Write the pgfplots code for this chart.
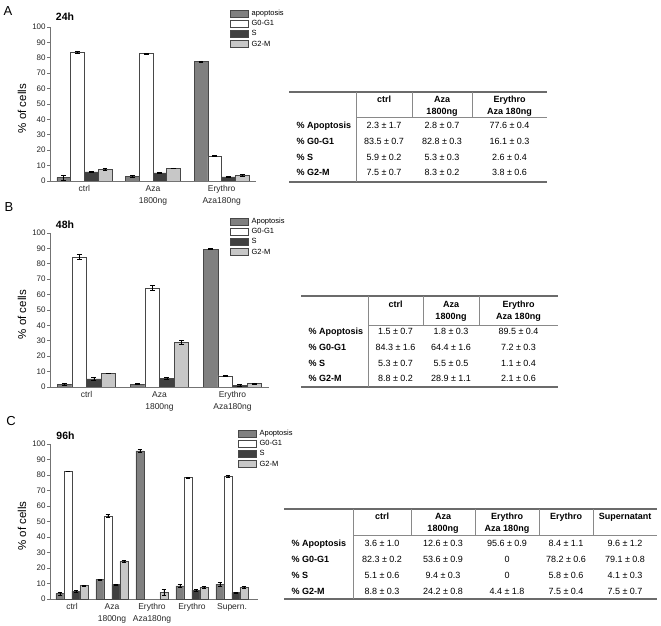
\documentclass[border=0pt]{standalone}
\usepackage{fontspec}
\setmainfont{Liberation Sans}
\usepackage{pgfplots}
\pgfplotsset{compat=1.18}

\definecolor{apo}{gray}{0.5}
\definecolor{sph}{gray}{0.25}
\definecolor{gtm}{gray}{0.78}
\definecolor{edge}{gray}{0.28}
\definecolor{axc}{gray}{0.45}
\definecolor{tl}{gray}{0.42}

\pgfplotsset{
  barleg/.style={legend image code/.code={\draw[##1] (0pt,-3.25pt) rectangle (18pt,3.25pt);}},
  sA/.style={fill=apo, draw=edge, line width=0.6pt},
  sG/.style={fill=white, draw=edge, line width=0.6pt},
  sS/.style={fill=sph, draw=edge, line width=0.6pt},
  sM/.style={fill=gtm, draw=edge, line width=0.6pt},
  eb/.style={error bars/.cd, y dir=both, y explicit,
    error bar style={black, line width=0.6pt},
    error mark options={rotate=90, black, mark size=2.4pt, line width=0.6pt}},
  panel/.style={
    scale only axis,
    anchor=south west,
    ybar=0pt, bar width=0.2,
    axis x line*=bottom, axis y line*=left,
    ymin=0, ymax=100, ytick={0,10,...,100},
    tick align=outside,
    major tick length=3pt,
    x tick style={draw=none},
    y tick style={axc, line width=0.6pt},
    axis line style={axc, line width=0.7pt},
    tick label style={font=\fontsize{8}{9}\selectfont, text=black!85},
    /pgf/number format/assume math mode=true,
    yticklabel style={inner sep=1.2pt},
    xticklabel style={align=center, font=\fontsize{8.5}{11.5}\selectfont, inner sep=1.5pt},
    ylabel={\% of cells},
    legend cell align=left,
    barleg,
    legend style={draw=none, fill=none, inner sep=0pt, outer sep=0pt, row sep=3pt,
      font=\fontsize{7.5}{8}\selectfont,
      nodes={inner sep=0pt, text height=5.5pt, text depth=1.2pt},
      /tikz/every odd column/.append style={column sep=3pt}},
  },
}
\tikzset{
  tline/.style={draw=tl, line width=1.1pt},
  vline/.style={draw=tl!80, line width=0.8pt},
  th/.style={font=\bfseries\fontsize{9}{11}\selectfont, anchor=mid},
  rl/.style={font=\bfseries\fontsize{9}{11}\selectfont, anchor=mid west},
  tv/.style={font=\fontsize{9}{11}\selectfont, anchor=mid},
}

\begin{document}
\begin{tikzpicture}
\useasboundingbox (0pt,0pt) rectangle (661pt,626pt);

% ---------------- Panel A ----------------
\begin{axis}[panel, at={(50pt,445pt)}, width=206pt, height=154pt,
  xmin=-0.5, xmax=2.5, xtick={0,1,2},
  xticklabels={ctrl,{Aza\\1800ng},{Erythro\\Aza180ng}},
  ylabel style={font=\fontsize{11.5}{12}\selectfont, at={(axis description cs:-0.136,0.47)}, anchor=center},
  legend style={at={(axis description cs:0.874,1.11)}, anchor=north west}]
\addplot[sA, eb] coordinates {(0,2.3) +- (0,1.7) (1,2.8) +- (0,0.7) (2,77.6) +- (0,0.4)};
\addplot[sG, eb] coordinates {(0,83.5) +- (0,0.7) (1,82.8) +- (0,0.3) (2,16.1) +- (0,0.3)};
\addplot[sS, eb] coordinates {(0,5.9) +- (0,0.2) (1,5.3) +- (0,0.3) (2,2.6) +- (0,0.4)};
\addplot[sM, eb] coordinates {(0,7.5) +- (0,0.7) (1,8.3) +- (0,0.2) (2,3.8) +- (0,0.6)};
\legend{apoptosis,G0-G1,S,G2-M}
\end{axis}

% ---------------- Panel B ----------------
\begin{axis}[panel, at={(50pt,239pt)}, width=219pt, height=154pt,
  xmin=-0.5, xmax=2.5, xtick={0,1,2},
  xticklabels={ctrl,{Aza\\1800ng},{Erythro\\Aza180ng}},
  ylabel style={font=\fontsize{11.5}{12}\selectfont, at={(axis description cs:-0.128,0.47)}, anchor=center},
  legend style={at={(axis description cs:0.822,1.097)}, anchor=north west}]
\addplot[sA, eb] coordinates {(0,1.5) +- (0,0.7) (1,1.8) +- (0,0.3) (2,89.5) +- (0,0.4)};
\addplot[sG, eb] coordinates {(0,84.3) +- (0,1.6) (1,64.4) +- (0,1.6) (2,7.2) +- (0,0.3)};
\addplot[sS, eb] coordinates {(0,5.3) +- (0,0.7) (1,5.5) +- (0,0.5) (2,1.1) +- (0,0.4)};
\addplot[sM, eb] coordinates {(0,8.8) +- (0,0.2) (1,28.9) +- (0,1.1) (2,2.1) +- (0,0.6)};
\legend{Apoptosis,G0-G1,S,G2-M}
\end{axis}

% ---------------- Panel C ----------------
\begin{axis}[panel, at={(50pt,27pt)}, width=208pt, height=155pt,
  xmin=-0.55, xmax=4.65, xtick={0,1,2,3,4},
  xticklabels={ctrl,{Aza\\1800ng},{Erythro\\Aza180ng},Erythro,Supern.},
  ylabel style={font=\fontsize{11.5}{12}\selectfont, at={(axis description cs:-0.135,0.47)}, anchor=center},
  legend style={at={(axis description cs:0.904,1.09)}, anchor=north west}]
\addplot[sA, eb] coordinates {(0,3.6) +- (0,1.0) (1,12.6) +- (0,0.3) (2,95.6) +- (0,0.9) (3,8.4) +- (0,1.1) (4,9.6) +- (0,1.2)};
\addplot[sG, eb] coordinates {(0,82.3) +- (0,0.2) (1,53.6) +- (0,0.9) (3,78.2) +- (0,0.6) (4,79.1) +- (0,0.8)};
\addplot[sS, eb] coordinates {(0,5.1) +- (0,0.6) (1,9.4) +- (0,0.3) (3,5.8) +- (0,0.6) (4,4.1) +- (0,0.3)};
\addplot[sM, eb] coordinates {(0,8.8) +- (0,0.3) (1,24.2) +- (0,0.8) (2,4.4) +- (0,1.8) (3,7.5) +- (0,0.4) (4,7.5) +- (0,0.7)};
\legend{Apoptosis,G0-G1,S,G2-M}
\end{axis}

% Panel letters and titles
\node[font=\fontsize{13}{14}\selectfont] at (8pt,615pt) {A};
\node[font=\fontsize{13}{14}\selectfont] at (9pt,419pt) {B};
\node[font=\fontsize{13}{14}\selectfont] at (11pt,205pt) {C};
\node[font=\bfseries\fontsize{10.5}{12}\selectfont] at (65pt,609pt) {24h};
\node[font=\bfseries\fontsize{10.5}{12}\selectfont] at (65pt,401pt) {48h};
\node[font=\bfseries\fontsize{10.5}{12}\selectfont] at (65.5pt,190pt) {96h};

% ---------------- Table A ----------------
\draw[tline] (289pt,534pt) -- (547pt,534pt);
\draw[vline] (356pt,509pt) -- (547pt,509pt);
\draw[tline] (289pt,444pt) -- (547pt,444pt);
\draw[vline] (356pt,534pt) -- (356pt,444pt);
\draw[vline] (412pt,534pt) -- (412pt,509pt);
\draw[vline] (472pt,534pt) -- (472pt,509pt);
\node[th] at (384pt,526pt) {ctrl};
\node[th] at (442pt,526pt) {Aza};
\node[th] at (442pt,514.5pt) {1800ng};
\node[th] at (509.5pt,526pt) {Erythro};
\node[th] at (509.5pt,514.5pt) {Aza 180ng};
\node[rl] at (293pt,500pt) {\% Apoptosis};
\node[rl] at (293pt,484pt) {\% G0-G1};
\node[rl] at (293pt,468.5pt) {\% S};
\node[rl] at (293pt,453pt) {\% G2-M};
\node[tv] at (384pt,500pt) {2.3 ± 1.7};
\node[tv] at (442pt,500pt) {2.8 ± 0.7};
\node[tv] at (509.5pt,500pt) {77.6 ± 0.4};
\node[tv] at (384pt,484pt) {83.5 ± 0.7};
\node[tv] at (442pt,484pt) {82.8 ± 0.3};
\node[tv] at (509.5pt,484pt) {16.1 ± 0.3};
\node[tv] at (384pt,468.5pt) {5.9 ± 0.2};
\node[tv] at (442pt,468.5pt) {5.3 ± 0.3};
\node[tv] at (509.5pt,468.5pt) {2.6 ± 0.4};
\node[tv] at (384pt,453pt) {7.5 ± 0.7};
\node[tv] at (442pt,453pt) {8.3 ± 0.2};
\node[tv] at (509.5pt,453pt) {3.8 ± 0.6};

% ---------------- Table B ----------------
\draw[tline] (301pt,330pt) -- (558pt,330pt);
\draw[vline] (368pt,301pt) -- (558pt,301pt);
\draw[tline] (301pt,239pt) -- (558pt,239pt);
\draw[vline] (368pt,330pt) -- (368pt,239pt);
\draw[vline] (423pt,330pt) -- (423pt,301pt);
\draw[vline] (479pt,330pt) -- (479pt,301pt);
\node[th] at (395.5pt,321pt) {ctrl};
\node[th] at (451pt,321pt) {Aza};
\node[th] at (451pt,309pt) {1800ng};
\node[th] at (518.5pt,321pt) {Erythro};
\node[th] at (518.5pt,309pt) {Aza 180ng};
\node[rl] at (305pt,294pt) {\% Apoptosis};
\node[rl] at (305pt,278pt) {\% G0-G1};
\node[rl] at (305pt,262.5pt) {\% S};
\node[rl] at (305pt,247pt) {\% G2-M};
\node[tv] at (395.5pt,294pt) {1.5 ± 0.7};
\node[tv] at (451pt,294pt) {1.8 ± 0.3};
\node[tv] at (518.5pt,294pt) {89.5 ± 0.4};
\node[tv] at (395.5pt,278pt) {84.3 ± 1.6};
\node[tv] at (451pt,278pt) {64.4 ± 1.6};
\node[tv] at (518.5pt,278pt) {7.2 ± 0.3};
\node[tv] at (395.5pt,262.5pt) {5.3 ± 0.7};
\node[tv] at (451pt,262.5pt) {5.5 ± 0.5};
\node[tv] at (518.5pt,262.5pt) {1.1 ± 0.4};
\node[tv] at (395.5pt,247pt) {8.8 ± 0.2};
\node[tv] at (451pt,247pt) {28.9 ± 1.1};
\node[tv] at (518.5pt,247pt) {2.1 ± 0.6};

% ---------------- Table C ----------------
\draw[tline] (284pt,117pt) -- (657pt,117pt);
\draw[vline] (353pt,91pt) -- (657pt,91pt);
\draw[tline] (284pt,27pt) -- (657pt,27pt);
\draw[vline] (353pt,117pt) -- (353pt,27pt);
\draw[vline] (411pt,117pt) -- (411pt,91pt);
\draw[vline] (475pt,117pt) -- (475pt,91pt);
\draw[vline] (539pt,117pt) -- (539pt,91pt);
\draw[vline] (593pt,117pt) -- (593pt,91pt);
\node[th] at (382pt,109pt) {ctrl};
\node[th] at (443pt,109pt) {Aza};
\node[th] at (443pt,97pt) {1800ng};
\node[th] at (507pt,109pt) {Erythro};
\node[th] at (507pt,97pt) {Aza 180ng};
\node[th] at (566pt,109pt) {Erythro};
\node[th] at (625pt,109pt) {Supernatant};
\node[rl] at (288pt,82pt) {\% Apoptosis};
\node[rl] at (288pt,66pt) {\% G0-G1};
\node[rl] at (288pt,50pt) {\% S};
\node[rl] at (288pt,34pt) {\% G2-M};
\node[tv] at (382pt,82pt) {3.6 ± 1.0};
\node[tv] at (443pt,82pt) {12.6 ± 0.3};
\node[tv] at (507pt,82pt) {95.6 ± 0.9};
\node[tv] at (566pt,82pt) {8.4 ± 1.1};
\node[tv] at (625pt,82pt) {9.6 ± 1.2};
\node[tv] at (382pt,66pt) {82.3 ± 0.2};
\node[tv] at (443pt,66pt) {53.6 ± 0.9};
\node[tv] at (507pt,66pt) {0};
\node[tv] at (566pt,66pt) {78.2 ± 0.6};
\node[tv] at (625pt,66pt) {79.1 ± 0.8};
\node[tv] at (382pt,50pt) {5.1 ± 0.6};
\node[tv] at (443pt,50pt) {9.4 ± 0.3};
\node[tv] at (507pt,50pt) {0};
\node[tv] at (566pt,50pt) {5.8 ± 0.6};
\node[tv] at (625pt,50pt) {4.1 ± 0.3};
\node[tv] at (382pt,34pt) {8.8 ± 0.3};
\node[tv] at (443pt,34pt) {24.2 ± 0.8};
\node[tv] at (507pt,34pt) {4.4 ± 1.8};
\node[tv] at (566pt,34pt) {7.5 ± 0.4};
\node[tv] at (625pt,34pt) {7.5 ± 0.7};
\end{tikzpicture}
\end{document}
